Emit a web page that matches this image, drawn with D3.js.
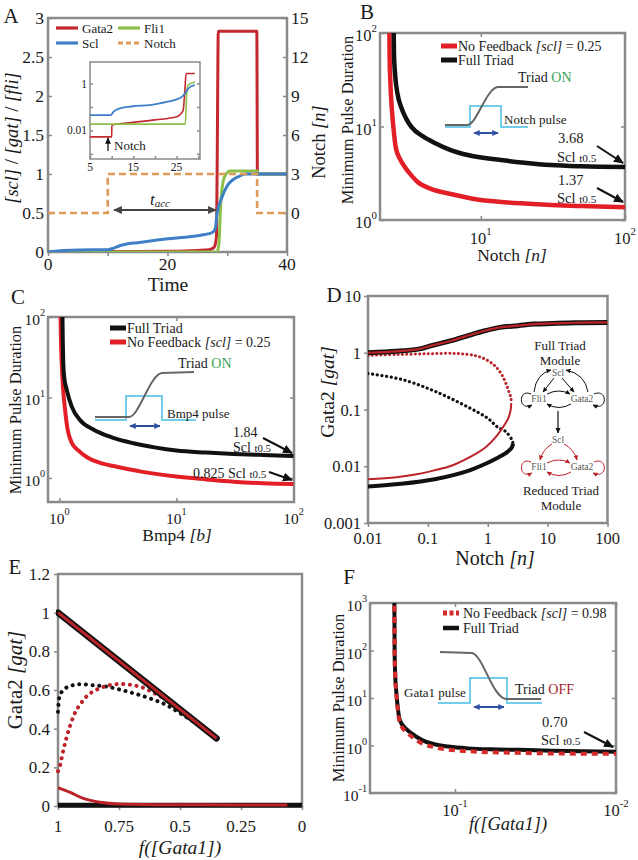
<!DOCTYPE html>
<html><head><meta charset="utf-8">
<script src="https://cdn.jsdelivr.net/npm/d3@7/dist/d3.min.js"></script>
<style>
html,body{margin:0;padding:0;background:#fff;}
svg{display:block;}
svg text{font-family:"Liberation Serif","DejaVu Serif","Noto Serif",serif;}
</style></head>
<body>
<svg id="fig" width="638" height="860"></svg>
<script>
// ================= DATA =================
// Panel A main
const aTimeTicks=[0,10,20,30,40];
const aTimeLabels=[0,20,40];
const aLeftTicks=[0,0.5,1,1.5,2,2.5,3];
const aRightTicks=[0,3,6,9,12,15];
const aNotchT=[0,10,10,35,35,40];
const aNotchV=[0,0,3,3,0,0];
const aGata2T=[0,10,20,25,27,27.8,28.2,28.35,28.5,34.95,35.05,40];
const aGata2V=[0,0.005,0.01,0.02,0.03,0.06,0.2,1.5,2.83,2.83,1.0,1.0];
const aFli1T=[0,28.3,28.6,28.9,29.3,29.8,30.5,35,35.2,40];
const aFli1V=[0,0,0.1,0.6,0.9,1.0,1.04,1.04,1.0,1.0];
const aSclT=[0,2,5,10,11,12,13,15,18,20,23,26,27.5,28,28.3,29,30,31,32,33,40];
const aSclV=[0,0.015,0.025,0.03,0.05,0.08,0.1,0.12,0.15,0.17,0.19,0.22,0.25,0.3,0.5,0.68,0.85,0.93,0.97,1.0,1.0];
// Panel A inset (log scale)
const inXTicks=[5,10,15,20,25,30];
const inXLabels=[5,15,25];
const inYTicks=[1,0.1,0.01,0.001];
const inYLabels=[1,0.01];
const inSclT=[5,9.8,10.4,11.9,14.9,18.8,22.7,25,26.2,26.9,27.7,28.5,29.2];
const inSclV=[0.045,0.045,0.062,0.087,0.107,0.12,0.165,0.21,0.27,0.37,0.61,0.78,0.85];
const inGata2T=[5,10,10.05,15,20,25,26.5,26.9,27.2,29.2];
const inGata2V=[0.0053,0.0053,0.017,0.022,0.028,0.038,0.07,0.5,2.7,2.7];
const inFli1T=[5,27,27.3,27.6,29.2];
const inFli1V=[0.0185,0.0185,0.3,0.85,1.17];
// Panel B
const bYTicks=[1,10,100];
const bXTicks=[10,100];
const bFullN=[2.48,2.5,2.55,2.65,2.8,3.05,3.3,4,4.8,6,8.1,13.8,20,30.6,50,100];
const bFullT=[150,60,35,22,16.2,12,9.9,7.8,6.67,5.7,4.95,4.38,4.1,3.87,3.75,3.68];
const bNoFbN=[2.32,2.33,2.36,2.42,2.5,2.57,2.75,2.97,3.3,3.65,4.5,6.2,9,13.8,20,30.6,50,100];
const bNoFbT=[150,60,30,15,8.5,6.0,4.5,3.69,3.0,2.55,2.15,1.9,1.68,1.56,1.5,1.45,1.41,1.37];
// Panel C
const cYTicks=[1,10,100];
const cXTicks=[1,10,100];
const cFullB=[1.06,1.07,1.08,1.1,1.157,1.276,1.5,1.95,2.8,4.3,6.5,10,18,30.7,55,100];
const cFullT=[150,50,27,18,12.4,7.7,5.25,4.0,3.2,2.7,2.4,2.19,2.07,1.99,1.93,1.88];
const cNoFbB=[1.02,1.03,1.05,1.08,1.12,1.16,1.28,1.45,1.71,2.2,3.1,5,10,18,30.7,55,100];
const cNoFbT=[150,60,25,12,7,4.55,2.72,2.2,1.82,1.55,1.38,1.2,1.04,0.96,0.9,0.86,0.84];
// Panel D
const dYTicks=[10,1,0.1,0.01,0.001];
const dYLabels=["10","1","0.1","0.01","0.001"];
const dXTicks=[0.01,0.1,1,10,100];
const dXLabels=["0.01","0.1","1","10","100"];
const dUpperN=[0.01,0.03,0.069,0.12,0.247,0.5,0.89,1.6,3.2,6,11.7,30,100];
const dUpperG=[1.0,1.06,1.16,1.35,1.63,2.05,2.44,2.8,3.0,3.2,3.28,3.38,3.42];
const dRedDotN=[0.01,0.03,0.1,0.3,0.63,0.95,1.31,1.65,1.93,2.2,2.43,2.47];
const dRedDotG=[0.9,0.93,0.96,0.97,0.885,0.75,0.59,0.44,0.32,0.22,0.163,0.13];
const dRedLowN=[2.47,2.4,2.2,1.93,1.4,0.89,0.5,0.247,0.13,0.069,0.03,0.01];
const dRedLowG=[0.13,0.095,0.07,0.055,0.034,0.021,0.0145,0.0102,0.0085,0.0073,0.0064,0.0059];
const dBlkDotN=[0.01,0.036,0.13,0.47,1.0,1.49,1.93,2.5,2.65];
const dBlkDotG=[0.43,0.34,0.21,0.11,0.07,0.048,0.042,0.03,0.025];
const dBlkLowN=[2.65,2.5,2.0,1.49,1.0,0.47,0.13,0.036,0.01];
const dBlkLowG=[0.025,0.021,0.017,0.0143,0.0115,0.0083,0.0059,0.0049,0.0044];
// Panel E
const eYTicks=[0,0.2,0.4,0.6,0.8,1,1.2];
const eXTicks=[1,0.75,0.5,0.25,0];
const eUpperF=[1,0.35];
const eUpperG=[1,0.35];
const eBlkDotF=[1,0.995,0.978,0.95,0.91,0.86,0.8,0.74,0.69,0.62,0.555,0.5,0.445,0.4,0.363];
const eBlkDotG=[0.487,0.56,0.6,0.62,0.63,0.625,0.617,0.6,0.583,0.555,0.522,0.48,0.436,0.4,0.358];
const eRedDotF=[1,0.995,0.978,0.964,0.937,0.896,0.828,0.746,0.664,0.6,0.555,0.5,0.445,0.4,0.363];
const eRedDotG=[0.18,0.195,0.29,0.358,0.462,0.548,0.609,0.631,0.617,0.58,0.548,0.5,0.445,0.4,0.358];
const eRedLowF=[1,0.95,0.896,0.828,0.75,0.6,0.4,0.2,0.06];
const eRedLowG=[0.095,0.07,0.039,0.019,0.01,0.007,0.006,0.005,0.005];
const eBlkLowF=[1,0];
const eBlkLowG=[0.004,0.004];
// Panel F
const fYTicks=[0.1,1,10,100,1000];
const fYExp=["-1","0","1","2","3"];
const fXTicks=[0.1,0.01];
const fXExp=["-1","-2"];
const fFullG=[0.238,0.237,0.235,0.232,0.228,0.22,0.2,0.186,0.16,0.134,0.11,0.083,0.06,0.0406,0.025,0.01];
const fFullT=[1500,100,30,15,7.7,3.4,2.2,1.8,1.3,1.06,0.95,0.87,0.83,0.81,0.78,0.74];
const fNoFbG=[0.238,0.237,0.235,0.232,0.228,0.22,0.2,0.186,0.16,0.134,0.11,0.083,0.06,0.0406,0.025,0.01];
const fNoFbT=[1500,100,30,14,7,3.0,1.9,1.55,1.1,0.92,0.82,0.76,0.72,0.7,0.68,0.67];

// ================= STYLE =================
const GREY="#8a8a8a", TXT="#1a1a1a";
const A_RED="#c4282e", A_BLUE="#3f7fc6", A_GREEN="#8cbf4a", A_ORANGE="#e09a58";
const B_RED="#e21f26", BLK="#111111", D_RED="#bb2329";
const CYAN="#72cdea", SIG="#666666", ABLUE="#2f50a0", ON_GREEN="#3aa35a", OFF_RED="#a3262b";

const svg=d3.select("#fig");
const defs=svg.append("defs");
function mk(id,color,w){
  defs.append("marker").attr("id",id).attr("viewBox","0 0 10 10").attr("refX",9).attr("refY",5)
    .attr("markerWidth",w).attr("markerHeight",w).attr("markerUnits","strokeWidth")
    .attr("orient","auto-start-reverse").append("path").attr("d","M0,0.5 L10,5 L0,9.5 Z").attr("fill",color);
}
mk("mBlk",BLK,5); mk("mGrey","#444",4); mk("mBlue",ABLUE,3.2); mk("mSm",BLK,5); mk("mRed",D_RED,5);

let clipN=0;
function clip(g,x0,y0,x1,y1){
  const id="cl"+(clipN++);
  defs.append("clipPath").attr("id",id).append("rect").attr("x",x0).attr("y",y0).attr("width",x1-x0).attr("height",y1-y0);
  return g.append("g").attr("clip-path",`url(#${id})`);
}
function frame(g,x0,y0,x1,y1){
  g.append("rect").attr("x",x0).attr("y",y0).attr("width",x1-x0).attr("height",y1-y0)
   .attr("fill","none").attr("stroke",GREY).attr("stroke-width",2.5);
}
function ticks(g,axis,tx,ty,len){
  const a=g.append("g").attr("transform",`translate(${tx},${ty})`).call(axis.tickSize(len).tickFormat(""));
  a.select(".domain").remove();
  a.selectAll(".tick line").attr("stroke",GREY).attr("stroke-width",1.5);
  a.selectAll(".tick text").remove();
}
function zip(xs,ys){return xs.map((x,i)=>[x,ys[i]]);}
function series(g,xs,ys,sx,sy,style,curve){
  const gen=d3.line().x(d=>sx(d[0])).y(d=>sy(d[1])).curve(curve||d3.curveMonotoneX);
  const p=g.append("path").datum(zip(xs,ys)).attr("d",gen).attr("fill","none");
  for(const k in style) p.attr(k,style[k]);
  return p;
}
function rich(g,x,y,parts,o){
  o=o||{};
  const t=g.append("text").attr("x",x).attr("y",y).attr("font-size",o.size||16)
    .attr("text-anchor",o.anchor||"middle").attr("dominant-baseline","central").attr("fill",o.color||TXT);
  if(o.italic) t.attr("font-style","italic");
  if(o.rotate) t.attr("transform",`rotate(-90,${x},${y})`);
  parts.forEach(p=>{
    const s=t.append("tspan").text(p[0]);
    const q=p[1]||{};
    if(q.italic) s.attr("font-style","italic");
    if(q.size) s.attr("font-size",q.size);
    if(q.color) s.attr("fill",q.color);
    if(q.dy!==undefined) s.attr("dy",q.dy);
  });
  return t;
}
function txt(g,x,y,s,o){return rich(g,x,y,[[s]],o);}
function pow(g,x,y,exp,size,anchor){
  return rich(g,x,y,[["10"],[exp,{size:size*0.66,dy:-size*0.42}]],{size:size,anchor:anchor});
}
function sclT(g,x,y,size){
  return rich(g,x,y,[["Scl "],["t0.5",{size:size*0.78,dy:1}]],{size:size,anchor:"start"});
}
function arrow(g,x1,y1,x2,y2,color,w,mid,both){
  const l=g.append("line").attr("x1",x1).attr("y1",y1).attr("x2",x2).attr("y2",y2)
    .attr("stroke",color).attr("stroke-width",w).attr("marker-end",`url(#${mid})`);
  if(both) l.attr("marker-start",`url(#${mid})`);
  return l;
}
function pathA(g,d,color,w,mEnd,mStart){
  const p=g.append("path").attr("d",d).attr("fill","none").attr("stroke",color).attr("stroke-width",w);
  if(mEnd) p.attr("marker-end",`url(#${mEnd})`);
  if(mStart) p.attr("marker-start",`url(#${mStart})`);
  return p;
}

// ================= PANEL A =================
{
const g=svg.append("g");
const sx=d3.scaleLinear().domain([0,40]).range([48,287]);
const sy=d3.scaleLinear().domain([0,3]).range([252,18]);
const sy2=d3.scaleLinear().domain([-3,15]).range([252,18]);
frame(g,48,18,287,252);
ticks(g,d3.axisRight(sy).tickValues(aLeftTicks),48,0,4);
ticks(g,d3.axisLeft(sy2).tickValues(aRightTicks),287,0,4);
ticks(g,d3.axisBottom(sx).tickValues(aTimeTicks),0,252,4);
aLeftTicks.forEach(v=>txt(g,44,sy(v),String(v),{anchor:"end",size:17.5}));
aRightTicks.forEach(v=>txt(g,291,sy2(v),String(v),{anchor:"start",size:17.5}));
aTimeLabels.forEach(v=>txt(g,sx(v),264,String(v),{size:17.5}));
txt(g,168,284,"Time",{size:19.5});
rich(g,12,138,[["[scl]",{italic:true}],[" / "],["[gat]",{italic:true}],[" / "],["[fli]",{italic:true}]],{size:18.5,rotate:true});
rich(g,319,142,[["Notch "],["[n]",{italic:true}]],{size:18.5,rotate:true});
txt(g,11,16,"A",{size:21});
const c=clip(g,48,18,287,252);
series(c,aGata2T,aGata2V,sx,sy,{stroke:A_RED,"stroke-width":3});
series(c,aFli1T,aFli1V,sx,sy,{stroke:A_GREEN,"stroke-width":3});
series(c,aSclT,aSclV,sx,sy,{stroke:A_BLUE,"stroke-width":3});
series(c,aNotchT,aNotchV,sx,sy2,{stroke:A_ORANGE,"stroke-width":2.6,"stroke-dasharray":"7,4"},d3.curveLinear);
arrow(g,114,210,216,210,"#444",2.2,"mGrey",true);
rich(g,160,199,[["t",{italic:true}],["acc",{italic:true,size:11,dy:4}]],{size:17});
const L=[[56,28,A_RED,"Gata2",null],[56,43,A_BLUE,"Scl",null],[118,28,A_GREEN,"Fli1",null],[118,43,A_ORANGE,"Notch","5,3"]];
L.forEach(l=>{
  const ln=g.append("line").attr("x1",l[0]).attr("x2",l[0]+22).attr("y1",l[1]).attr("y2",l[1]).attr("stroke",l[2]).attr("stroke-width",3.2);
  if(l[4]) ln.attr("stroke-dasharray",l[4]);
  txt(g,l[0]+26,l[1],l[3],{anchor:"start",size:13});
});
const ix=d3.scaleLinear().domain([5,30.4]).range([90,200]);
const iy=d3.scaleLog().domain([0.0006,8.3]).range([159,62]);
g.append("rect").attr("x",90).attr("y",62).attr("width",110).attr("height",97).attr("fill","#fff").attr("stroke",GREY).attr("stroke-width",1.5);
ticks(g,d3.axisBottom(ix).tickValues(inXTicks),0,159,-3);
ticks(g,d3.axisRight(iy).tickValues(inYTicks),90,0,3);
ticks(g,d3.axisLeft(iy).tickValues(inYTicks),200,0,3);
inXLabels.forEach(v=>txt(g,ix(v),167,String(v),{size:11.5}));
inYLabels.forEach(v=>txt(g,87,iy(v),String(v),{size:11.5,anchor:"end"}));
const ic=clip(g,90,62,200,159);
series(ic,inGata2T,inGata2V,ix,iy,{stroke:A_RED,"stroke-width":1.6});
series(ic,inFli1T,inFli1V,ix,iy,{stroke:A_GREEN,"stroke-width":1.6});
series(ic,inSclT,inSclV,ix,iy,{stroke:A_BLUE,"stroke-width":1.8});
arrow(g,108,151,108,138,BLK,1.3,"mSm");
txt(g,114,145,"Notch",{anchor:"start",size:13});
}

// ================= PANEL B =================
{
const g=svg.append("g");
const sx=d3.scaleLog().domain([2,100]).range([380,625]);
const sy=d3.scaleLog().domain([1,100]).range([220,33]);
frame(g,380,33,625,220);
ticks(g,d3.axisRight(sy).tickValues(bYTicks),380,0,4);
ticks(g,d3.axisLeft(sy).tickValues(bYTicks),625,0,4);
ticks(g,d3.axisTop(sx).tickValues(bXTicks),0,220,4);
ticks(g,d3.axisBottom(sx).tickValues(bXTicks),0,33,4);
bYTicks.forEach(v=>pow(g,377,sy(v)+2,String(Math.log10(v)),16.5,"end"));
bXTicks.forEach(v=>pow(g,sx(v),238,String(Math.log10(v)),16.5,"middle"));
rich(g,512,255,[["Notch "],["[n]",{italic:true}]],{size:17.5});
txt(g,347,120,"Minimum Pulse Duration",{size:16.5,rotate:true});
txt(g,367,12,"B",{size:21});
const c=clip(g,380,33,625,220);
series(c,bNoFbN,bNoFbT,sx,sy,{stroke:B_RED,"stroke-width":4.5,"stroke-linejoin":"round"});
series(c,bFullN,bFullT,sx,sy,{stroke:BLK,"stroke-width":4.5,"stroke-linejoin":"round"});
g.append("line").attr("x1",441).attr("x2",457).attr("y1",46).attr("y2",46).attr("stroke",B_RED).attr("stroke-width",5);
rich(g,458,46,[["No Feedback "],["[scl]",{italic:true}],[" = 0.25"]],{anchor:"start",size:14});
g.append("line").attr("x1",441).attr("x2",457).attr("y1",60).attr("y2",60).attr("stroke",BLK).attr("stroke-width",5);
txt(g,458,60,"Full Triad",{anchor:"start",size:14});
pathA(g,"M445,127 L470,127 L470,106 L501,106 L501,127 L528,127",CYAN,2);
pathA(g,"M445,125 L467,125 C477,125 486,88 498,87 L528,87",SIG,2);
arrow(g,474,133,498,133,ABLUE,2,"mBlue",true);
rich(g,518,77,[["Triad "],["ON",{color:ON_GREEN}]],{anchor:"start",size:14});
txt(g,504,119,"Notch pulse",{anchor:"start",size:13});
txt(g,558,138,"3.68",{anchor:"start",size:14.5});
sclT(g,557,157,14.5);
arrow(g,597,146,623,163,BLK,2,"mBlk");
txt(g,558,180,"1.37",{anchor:"start",size:14.5});
sclT(g,557,198,14.5);
arrow(g,597,188,623,202,BLK,2,"mBlk");
}

// ================= PANEL C =================
{
const g=svg.append("g");
const sx=d3.scaleLog().domain([0.8,100]).range([48,293.5]);
const sy=d3.scaleLog().domain([0.503,100]).range([502,317]);
frame(g,48,317,294,502);
ticks(g,d3.axisRight(sy).tickValues(cYTicks),48,0,4);
ticks(g,d3.axisLeft(sy).tickValues(cYTicks),294,0,4);
ticks(g,d3.axisTop(sx).tickValues(cXTicks),0,502,4);
ticks(g,d3.axisBottom(sx).tickValues(cXTicks),0,317,4);
cYTicks.forEach(v=>pow(g,45,sy(v)+2,String(Math.log10(v)),15.5,"end"));
cXTicks.forEach(v=>pow(g,sx(v),518,String(Math.log10(v)),15.5,"middle"));
rich(g,177,535,[["Bmp4 "],["[b]",{italic:true}]],{size:17.5});
txt(g,15,410,"Minimum Pulse Duration",{size:16.5,rotate:true});
txt(g,18,297,"C",{size:21});
const c=clip(g,48,317,294,502);
series(c,cNoFbB,cNoFbT,sx,sy,{stroke:B_RED,"stroke-width":4,"stroke-linejoin":"round"});
series(c,cFullB,cFullT,sx,sy,{stroke:BLK,"stroke-width":4,"stroke-linejoin":"round"});
g.append("line").attr("x1",110).attr("x2",126).attr("y1",328).attr("y2",328).attr("stroke",BLK).attr("stroke-width",5);
txt(g,127,328,"Full Triad",{anchor:"start",size:14});
g.append("line").attr("x1",110).attr("x2",126).attr("y1",342).attr("y2",342).attr("stroke",B_RED).attr("stroke-width",5);
rich(g,127,342,[["No Feedback "],["[scl]",{italic:true}],[" = 0.25"]],{anchor:"start",size:14});
pathA(g,"M95,420 L126,420 L126,396 L162,396 L162,420 L196,420",CYAN,2);
pathA(g,"M95,417 L129,417 C139,417 150,374 162,373 L194,372",SIG,2);
arrow(g,130,426,160,426,ABLUE,2,"mBlue",true);
rich(g,178,363,[["Triad "],["ON",{color:ON_GREEN}]],{anchor:"start",size:14});
txt(g,167,413,"Bmp4 pulse",{anchor:"start",size:13});
txt(g,233,432,"1.84",{anchor:"start",size:14});
sclT(g,233,447,14);
arrow(g,263,438,292,453,BLK,2,"mBlk");
rich(g,193,473,[["0.825 Scl "],["t0.5",{size:11,dy:1}]],{anchor:"start",size:14});
arrow(g,269,472,292,480,BLK,2,"mBlk");
}

// ================= PANEL D =================
{
const g=svg.append("g");
const sx=d3.scaleLog().domain([0.01,100]).range([368,607.5]);
const sy=d3.scaleLog().domain([0.001,10]).range([523,296]);
frame(g,368,296,607.5,523);
ticks(g,d3.axisLeft(sy).tickValues(dYTicks),368,0,4);
ticks(g,d3.axisBottom(sx).tickValues(dXTicks),0,523,4);
dYTicks.forEach((v,i)=>txt(g,361,sy(v),dYLabels[i],{anchor:"end",size:16.5}));
dXTicks.forEach((v,i)=>txt(g,sx(v),538,dXLabels[i],{size:16.5}));
rich(g,495,558,[["Notch "],["[n]",{italic:true}]],{size:20});
rich(g,327,392,[["Gata2 "],["[gat]",{italic:true}]],{size:19.5,rotate:true});
txt(g,334,295,"D",{size:21});
const c=clip(g,368,296,607.5,523);
const cr=d3.curveCatmullRom.alpha(0.5);
series(c,dBlkLowN,dBlkLowG,sx,sy,{stroke:BLK,"stroke-width":4},cr);
series(c,dBlkDotN,dBlkDotG,sx,sy,{stroke:BLK,"stroke-width":3.2,"stroke-linecap":"round","stroke-dasharray":"0.1,4.6"},cr);
series(c,dRedLowN,dRedLowG,sx,sy,{stroke:D_RED,"stroke-width":2},cr);
series(c,dRedDotN,dRedDotG,sx,sy,{stroke:D_RED,"stroke-width":3,"stroke-linecap":"round","stroke-dasharray":"0.1,4.2"},cr);
series(c,dUpperN,dUpperG,sx,sy,{stroke:BLK,"stroke-width":5},cr);
series(c,dUpperN,dUpperG,sx,sy,{stroke:D_RED,"stroke-width":2.2},cr);
txt(g,560,345,"Full Triad",{size:13});
txt(g,560,360,"Module",{size:13});
const NT="#555";
txt(g,558,373,"Scl",{size:9.5,color:NT});
txt(g,539,399,"Fli1",{size:9.5,color:NT});
txt(g,582,399,"Gata2",{size:9.5,color:NT});
pathA(g,"M554,378 L543,392",BLK,1,"mBlk");
pathA(g,"M562,378 L574,392",BLK,1,"mBlk");
pathA(g,"M534,392 Q536,374 551,370",BLK,1,"mBlk");
pathA(g,"M588,392 Q585,374 566,370",BLK,1,"mBlk");
pathA(g,"M547,394 Q559,388 570,394",BLK,1,"mBlk");
pathA(g,"M571,404 Q559,411 547,404",BLK,1,"mBlk");
pathA(g,"M531,394 C518,388 518,412 532,405",BLK,1,"mBlk");
pathA(g,"M594,394 C608,388 608,412 593,405",BLK,1,"mBlk");
arrow(g,558,411,558,433,BLK,1.2,"mBlk");
txt(g,558,440,"Scl",{size:9.5,color:NT});
txt(g,539,467,"Fli1",{size:9.5,color:NT});
txt(g,582,467,"Gata2",{size:9.5,color:NT});
pathA(g,"M552,444 Q543,449 540,460",D_RED,1,"mRed");
pathA(g,"M564,444 Q574,449 577,460",D_RED,1,"mRed");
pathA(g,"M547,463 Q559,457 570,463",D_RED,1,"mRed");
pathA(g,"M571,472 Q559,479 547,472",D_RED,1,"mRed");
pathA(g,"M531,462 C518,456 518,480 532,473",D_RED,1,"mRed");
pathA(g,"M594,462 C608,456 608,480 593,473",D_RED,1,"mRed");
txt(g,561,490,"Reduced Triad",{size:13});
txt(g,561,505,"Module",{size:13});
}

// ================= PANEL E =================
{
const g=svg.append("g");
const sx=d3.scaleLinear().domain([1,0]).range([58,302]);
const sy=d3.scaleLinear().domain([0,1.2]).range([806,574]);
frame(g,58,574,302,806);
ticks(g,d3.axisLeft(sy).tickValues(eYTicks),58,0,4);
ticks(g,d3.axisBottom(sx).tickValues(eXTicks),0,806,4);
eYTicks.forEach(v=>txt(g,50,sy(v),String(v),{anchor:"end",size:17}));
eXTicks.forEach(v=>txt(g,sx(v),826,String(v),{size:17}));
txt(g,180,847,"f([Gata1])",{size:19.5,italic:true});
rich(g,15,680,[["Gata2 "],["[gat]",{italic:true}]],{size:21,rotate:true});
txt(g,15,567,"E",{size:21});
const c=clip(g,56,572,304,808);
series(c,eBlkLowF,eBlkLowG,sx,sy,{stroke:BLK,"stroke-width":5},d3.curveLinear);
series(c,eRedLowF,eRedLowG,sx,sy,{stroke:D_RED,"stroke-width":3});
series(c,eBlkDotF,eBlkDotG,sx,sy,{stroke:BLK,"stroke-width":4,"stroke-linecap":"round","stroke-dasharray":"0.1,6.6"});
series(c,eRedDotF,eRedDotG,sx,sy,{stroke:D_RED,"stroke-width":4,"stroke-linecap":"round","stroke-dasharray":"0.1,6.6"});
series(c,eUpperF,eUpperG,sx,sy,{stroke:BLK,"stroke-width":6.5,"stroke-linecap":"round"},d3.curveLinear);
series(c,eUpperF,eUpperG,sx,sy,{stroke:D_RED,"stroke-width":3},d3.curveLinear);
}

// ================= PANEL F =================
{
const g=svg.append("g");
const sx=d3.scaleLog().domain([0.337,0.01]).range([370,616]);
const sy=d3.scaleLog().domain([0.1,1000]).range([793,603]);
frame(g,370,603,616,793);
ticks(g,d3.axisRight(sy).tickValues(fYTicks),370,0,4);
ticks(g,d3.axisLeft(sy).tickValues(fYTicks),616,0,4);
ticks(g,d3.axisTop(sx).tickValues(fXTicks),0,793,4);
ticks(g,d3.axisBottom(sx).tickValues(fXTicks),0,603,4);
fYTicks.forEach((v,i)=>pow(g,367,sy(v)+2,fYExp[i],15.5,"end"));
fXTicks.forEach((v,i)=>pow(g,sx(v),810,fXExp[i],16.5,"middle"));
txt(g,508,824,"f([Gata1])",{size:18.5,italic:true});
txt(g,338,698,"Minimum Pulse Duration",{size:16.5,rotate:true});
txt(g,349,577,"F",{size:21});
const c=clip(g,370,603,616,793);
series(c,fFullG,fFullT,sx,sy,{stroke:BLK,"stroke-width":4,"stroke-linejoin":"round"});
series(c,fNoFbG,fNoFbT,sx,sy,{stroke:"#d42a2a","stroke-width":4,"stroke-dasharray":"6,5"});
g.append("line").attr("x1",443).attr("x2",459).attr("y1",613).attr("y2",613).attr("stroke","#d42a2a").attr("stroke-width",5).attr("stroke-dasharray","4,2.5");
rich(g,463,613,[["No Feedback "],["[scl]",{italic:true}],[" = 0.98"]],{anchor:"start",size:14});
g.append("line").attr("x1",443).attr("x2",459).attr("y1",628).attr("y2",628).attr("stroke",BLK).attr("stroke-width",4.5);
txt(g,463,628,"Full Triad",{anchor:"start",size:14});
pathA(g,"M438,703 L470,703 L470,678 L507,678 L507,703 L542,703",CYAN,2);
pathA(g,"M440,652 L472,653 C483,655 492,697 506,699 L541,699",SIG,2);
arrow(g,474,707,504,707,ABLUE,2,"mBlue",true);
txt(g,404,692,"Gata1 pulse",{anchor:"start",size:13});
rich(g,515,689,[["Triad "],["OFF",{color:OFF_RED}]],{anchor:"start",size:14});
txt(g,542,722,"0.70",{anchor:"start",size:14.5});
sclT(g,541,740,14.5);
arrow(g,584,732,613,747,BLK,2,"mBlk");
}
</script>
</body></html>
